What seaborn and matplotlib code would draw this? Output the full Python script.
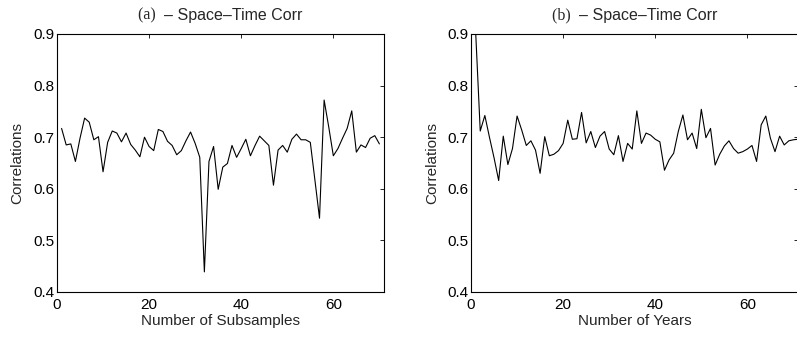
import numpy as np
import pandas as pd
import matplotlib
matplotlib.use("Agg")
import matplotlib.pyplot as plt
import seaborn as sns

# panel (a): correlations vs number of subsamples
subsamples = list(range(1, 71))
corr_a = [0.717, 0.685, 0.687, 0.653, 0.698, 0.737, 0.729, 0.695, 0.701, 0.633,
          0.690, 0.712, 0.708, 0.691, 0.708, 0.686, 0.675, 0.662, 0.700, 0.682,
          0.674, 0.715, 0.711, 0.692, 0.684, 0.666, 0.674, 0.693, 0.710, 0.688,
          0.661, 0.439, 0.653, 0.682, 0.599, 0.642, 0.649, 0.684, 0.661, 0.678,
          0.696, 0.664, 0.684, 0.702, 0.693, 0.684, 0.607, 0.675, 0.684, 0.671,
          0.696, 0.706, 0.695, 0.695, 0.690, 0.617, 0.543, 0.772, 0.720, 0.664,
          0.678, 0.698, 0.717, 0.751, 0.671, 0.685, 0.680, 0.698, 0.703, 0.687]

# panel (b): correlations vs number of years
years = list(range(1, 72))
corr_b = [0.905, 0.712, 0.742, 0.700, 0.660, 0.616, 0.702, 0.647, 0.678, 0.741,
          0.714, 0.684, 0.693, 0.675, 0.630, 0.701, 0.664, 0.667, 0.674, 0.688,
          0.733, 0.696, 0.697, 0.748, 0.689, 0.711, 0.680, 0.702, 0.711, 0.677,
          0.666, 0.703, 0.653, 0.688, 0.677, 0.751, 0.688, 0.708, 0.704, 0.696,
          0.691, 0.636, 0.656, 0.669, 0.711, 0.743, 0.695, 0.708, 0.678, 0.754,
          0.699, 0.717, 0.646, 0.667, 0.683, 0.693, 0.678, 0.669, 0.672, 0.677,
          0.684, 0.653, 0.724, 0.741, 0.698, 0.672, 0.702, 0.685, 0.693, 0.695,
          0.696]

sns.set_style("white")
plt.rcParams['font.family'] = ['Liberation Sans', 'DejaVu Sans']

fig = plt.figure(figsize=(7.97, 3.43), dpi=100)
ax1 = fig.add_axes([0.0715, 0.1487, 0.4103, 0.7522])
ax2 = fig.add_axes([0.591, 0.1487, 0.4103, 0.7522])

panels = [
    (ax1, subsamples, corr_a, '(a)', 'Number of Subsamples'),
    (ax2, years, corr_b, '(b)', 'Number of Years'),
]

renderer = fig.canvas.get_renderer()

for ax, xs, ys, tag, xlab in panels:
    df = pd.DataFrame({'x': xs, 'y': ys})
    sns.lineplot(data=df, x='x', y='y', ax=ax, color='black', linewidth=0.8)
    ax.set_xlim(0, 71)
    ax.set_ylim(0.4, 0.9)
    ax.set_xticks([0, 20, 40, 60])
    ax.set_yticks([0.4, 0.5, 0.6, 0.7, 0.8, 0.9])
    ax.set_yticklabels(['0.4', '0.5', '0.6', '0.7', '0.8', '0.9'])
    ax.tick_params(direction='in', length=3, width=0.6, labelsize=11,
                   top=True, right=True, colors='black')
    ax.tick_params(axis='x', pad=4)
    ax.tick_params(axis='y', pad=2)
    for s in ax.spines.values():
        s.set_linewidth(0.8)
        s.set_color('black')
    ax.set_xlabel(xlab, fontsize=11, labelpad=2)
    ax.set_ylabel('Correlations', fontsize=11, labelpad=6)

    # title: serif tag followed by sans text, centred as a whole
    t1 = ax.text(0, 1.055, tag + '  ', transform=ax.transAxes, ha='left',
                 va='baseline', fontsize=11.5,
                 family=['Liberation Serif', 'DejaVu Serif'])
    t2 = ax.text(0, 1.055, '\u2013 Space\u2013Time Corr', transform=ax.transAxes,
                 ha='left', va='baseline', fontsize=11.5)
    w1 = t1.get_window_extent(renderer).width
    w2 = t2.get_window_extent(renderer).width
    axw = ax.get_window_extent(renderer).width
    start = 0.5 - (w1 + w2) / 2 / axw
    t1.set_x(start)
    t2.set_x(start + w1 / axw)

fig.savefig('out.png', dpi=100)
